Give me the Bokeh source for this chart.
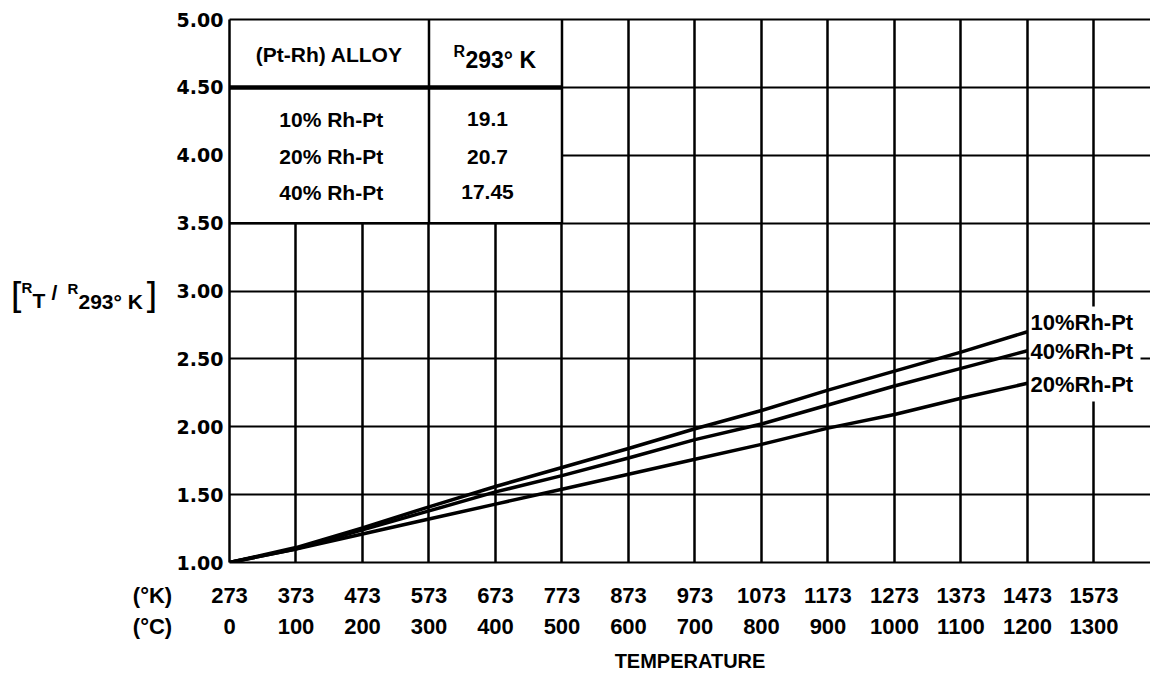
from bokeh.plotting import figure
from bokeh.models import FixedTicker, LinearAxis, Label, Range1d, Grid, NumeralTickFormatter
from bokeh.layouts import row
from bokeh.core.properties import value
from bokeh.embed import file_html
from bokeh.resources import INLINE

# Resistance ratio R_T / R_293K of platinum-rhodium alloys versus temperature
temp_k = [273, 373, 473, 573, 673, 773, 873, 973, 1073, 1173, 1273, 1373, 1473]
ratio_10 = [1.00, 1.11, 1.255, 1.41, 1.56, 1.70, 1.84, 1.985, 2.12, 2.27, 2.41, 2.55, 2.70]
ratio_40 = [1.00, 1.10, 1.24, 1.38, 1.52, 1.64, 1.77, 1.905, 2.02, 2.16, 2.30, 2.43, 2.56]
ratio_20 = [1.00, 1.10, 1.21, 1.32, 1.43, 1.54, 1.65, 1.76, 1.87, 1.99, 2.09, 2.21, 2.32]

k_ticks = [273, 373, 473, 573, 673, 773, 873, 973, 1073, 1173, 1273, 1373, 1473, 1573]
c_labels = ["0", "100", "200", "300", "400", "500", "600", "700", "800", "900",
            "1000", "1100", "1200", "1300"]
y_ticks = [1.0, 1.5, 2.0, 2.5, 3.0, 3.5, 4.0, 4.5, 5.0]

alloy_names = ["10% Rh-Pt", "20% Rh-Pt", "40% Rh-Pt"]
r293_values = ["19.1", "20.7", "17.45"]

LIB = "Liberation Sans"
DJV = "DejaVu Sans"
CAP_W = 172          # width of the caption strip on the left
H = 674
TOP, BOTTOM = 19, 111

K_STANDOFF, C_STANDOFF = 25, 13


def row_axis(ticks, overrides=None, standoff=0, line=False, **extra):
    kw = dict(ticker=FixedTicker(ticks=ticks),
              major_tick_out=0, major_tick_in=0, minor_tick_out=0, minor_tick_in=0,
              major_label_standoff=standoff,
              major_label_text_font=LIB, major_label_text_font_style="bold",
              major_label_text_font_size="22px", major_label_text_color="black")
    if overrides:
        kw["major_label_overrides"] = overrides
    if line:
        kw["axis_line_width"] = 2.2
    else:
        kw["axis_line_color"] = None
    kw.update(extra)
    return LinearAxis(**kw)


# ---------------------------------------------------------------- main chart
p = figure(width=1150 - CAP_W, height=H,
           x_range=Range1d(273, 1658), y_range=Range1d(1.0, 5.0),
           x_axis_type=None, y_axis_type=None,
           output_backend="svg", toolbar_location=None,
           min_border_left=229 - CAP_W, min_border_right=0,
           min_border_top=TOP, min_border_bottom=BOTTOM)
p.outline_line_color = None
p.background_fill_color = "white"
p.border_fill_color = "white"

p.add_layout(Grid(dimension=0, ticker=FixedTicker(ticks=k_ticks),
                  grid_line_color="black", grid_line_width=2.5))
p.add_layout(Grid(dimension=1, ticker=FixedTicker(ticks=y_ticks),
                  grid_line_color="black", grid_line_width=2.2))

# table panel in the upper-left corner
p.quad(left=273, right=773, bottom=3.5, top=5.0, fill_color="white", line_color=None)
p.segment(x0=[573, 773], y0=[3.5, 3.5], x1=[573, 773], y1=[5.0, 5.0],
          line_color="black", line_width=2.5)
p.segment(x0=[273], y0=[3.5], x1=[773], y1=[3.5], line_color="black", line_width=2.2)
p.segment(x0=[273], y0=[4.5], x1=[773], y1=[4.5], line_color="black", line_width=4.5)

# clear area behind the curve labels
p.quad(left=1476, right=1643, bottom=2.186, top=2.885, fill_color="white", line_color=None)

for ys in (ratio_10, ratio_40, ratio_20):
    p.line(temp_k, ys, line_color="black", line_width=3.5)

top_axis = LinearAxis(ticker=FixedTicker(ticks=[]), axis_line_width=2.2,
                      major_tick_out=0, major_tick_in=0, minor_tick_out=0, minor_tick_in=0,
                      major_label_text_font_size="0px")
p.add_layout(top_axis, "above")

left_axis = LinearAxis(ticker=FixedTicker(ticks=y_ticks),
                       formatter=NumeralTickFormatter(format="0.00"),
                       axis_line_width=2.5, major_tick_out=0, major_tick_in=0,
                       minor_tick_out=0, minor_tick_in=0,
                       major_label_standoff=6,
                       major_label_text_font=DJV, major_label_text_font_style="bold",
                       major_label_text_font_size="19px", major_label_text_color="black")
p.add_layout(left_axis, "left")

p.add_layout(row_axis(k_ticks, standoff=K_STANDOFF, line=True), "below")
p.add_layout(row_axis(k_ticks, overrides={k: c for k, c in zip(k_ticks, c_labels)},
                      standoff=C_STANDOFF,
                      axis_label="TEMPERATURE", axis_label_standoff=13,
                      axis_label_text_font=LIB, axis_label_text_font_style="bold",
                      axis_label_text_font_size="20px", axis_label_text_color="black"),
             "below")


def lab(text, x, y, dx=0, dy=0, size="21px", font=LIB, align="center"):
    p.add_layout(Label(x=x, y=y, x_offset=dx, y_offset=dy, text=text,
                       text_font=font, text_font_style="bold", text_font_size=size,
                       text_color="black", text_align=align, text_baseline="middle"))


# table header
lab("(Pt-Rh) ALLOY", 423, 4.75, dy=-1, size="21px")
lab("R", 673, 4.75, dx=-42, dy=2, size="16px", align="left")
lab("293° K", 673, 4.75, dx=-30, dy=-7, size="23px", align="left")

# table rows
row_y = [4.267, 3.99, 3.726]
for name, val, yy in zip(alloy_names, r293_values, row_y):
    lab(name, 423, yy, dx=2, size="21px")
    lab(val, 673, yy, dx=-8, size="21px")

# curve end labels
lab("10%Rh-Pt", 1473, ratio_10[-1], dx=3, dy=9, size="22px", align="left")
lab("40%Rh-Pt", 1473, ratio_40[-1], dx=3, dy=-1, size="22px", align="left")
lab("20%Rh-Pt", 1473, ratio_20[-1], dx=3, dy=-1, size="22px", align="left")

# ------------------------------------- caption strip (pixel coordinates, y down)
cap = figure(width=CAP_W, height=H,
             x_range=Range1d(0, CAP_W), y_range=Range1d(H - BOTTOM, TOP),
             x_axis_type=None, y_axis_type=None,
             output_backend="svg", toolbar_location=None,
             min_border_left=0, min_border_right=0,
             min_border_top=TOP, min_border_bottom=BOTTOM)
cap.outline_line_color = None
cap.background_fill_color = "white"
cap.border_fill_color = "white"

# unit captions sharing the rows of the two temperature scales
cap.add_layout(row_axis([152], overrides={152: "(°K)"}, standoff=K_STANDOFF - 5), "below")
cap.add_layout(row_axis([152], overrides={152: "(°C)"}, standoff=C_STANDOFF - 10), "below")


def ctext(text, x, y, size, font=LIB, style="bold"):
    cap.text(x=[x], y=[y], text=[text], text_font=value(font), text_font_style=style,
             text_font_size=value(size), text_color="black",
             text_align="left", text_baseline="middle")


# vertical-axis title [R_T / R_293°K]
ctext("[", 10, 296, "36px", font=DJV, style="normal")
ctext("R", 21, 287, "15px")
ctext("T", 32, 301, "21px")
ctext("/", 51, 293, "21px")
ctext("R", 67, 288, "15px")
ctext("293° K", 78, 302, "21px")
ctext("]", 143, 296, "36px", font=DJV, style="normal")

layout = row(cap, p, spacing=0)
open("out.html", "w").write(file_html(layout, INLINE))
